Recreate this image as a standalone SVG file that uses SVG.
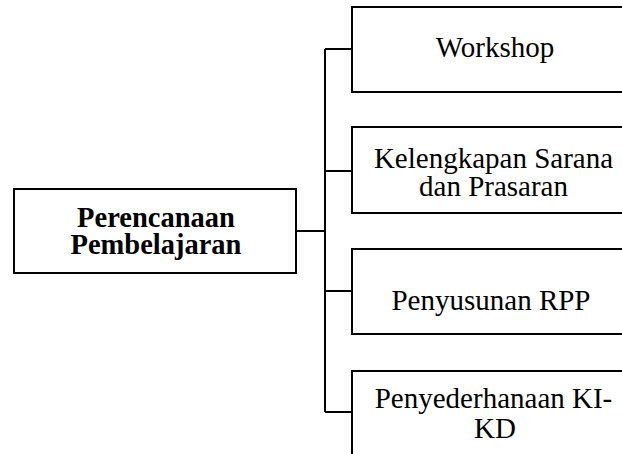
<svg xmlns="http://www.w3.org/2000/svg" width="622" height="454" viewBox="0 0 622 454">
<style>
.box{fill:#fff;stroke:#000;stroke-width:2}
.ln{fill:none;stroke:#000;stroke-width:2}
text{font-family:"Liberation Serif","Times New Roman",serif;fill:#000;text-anchor:middle;font-size:29px}
.b{font-weight:bold;font-size:28.5px}
</style>
<rect width="622" height="454" fill="#fff"/>
<g id="connectors">
<path class="ln" d="M296 231H325M325 49V412M325 49H352M325 171H352M325 291H352M325 412H352"/>
</g>
<g id="main">
<rect class="box" x="14" y="189" width="282" height="84"/>
<text class="b" x="156" y="226.5">Perencanaan</text>
<text class="b" x="156" y="253.5">Pembelajaran</text>
</g>
<g id="workshop">
<rect class="box" x="352" y="7" width="290" height="85"/>
<text x="495" y="57">Workshop</text>
</g>
<g id="kelengkapan">
<rect class="box" x="352" y="127" width="290" height="86"/>
<text x="493.5" y="167.5">Kelengkapan Sarana</text>
<text x="493.5" y="195.5">dan Prasaran</text>
</g>
<g id="penyusunan">
<rect class="box" x="352" y="249" width="290" height="85"/>
<text x="491" y="310">Penyusunan RPP</text>
</g>
<g id="penyederhanaan">
<rect class="box" x="352" y="371" width="290" height="100"/>
<text x="493.5" y="407.5">Penyederhanaan KI-</text>
<text x="495" y="438">KD</text>
</g>
</svg>
